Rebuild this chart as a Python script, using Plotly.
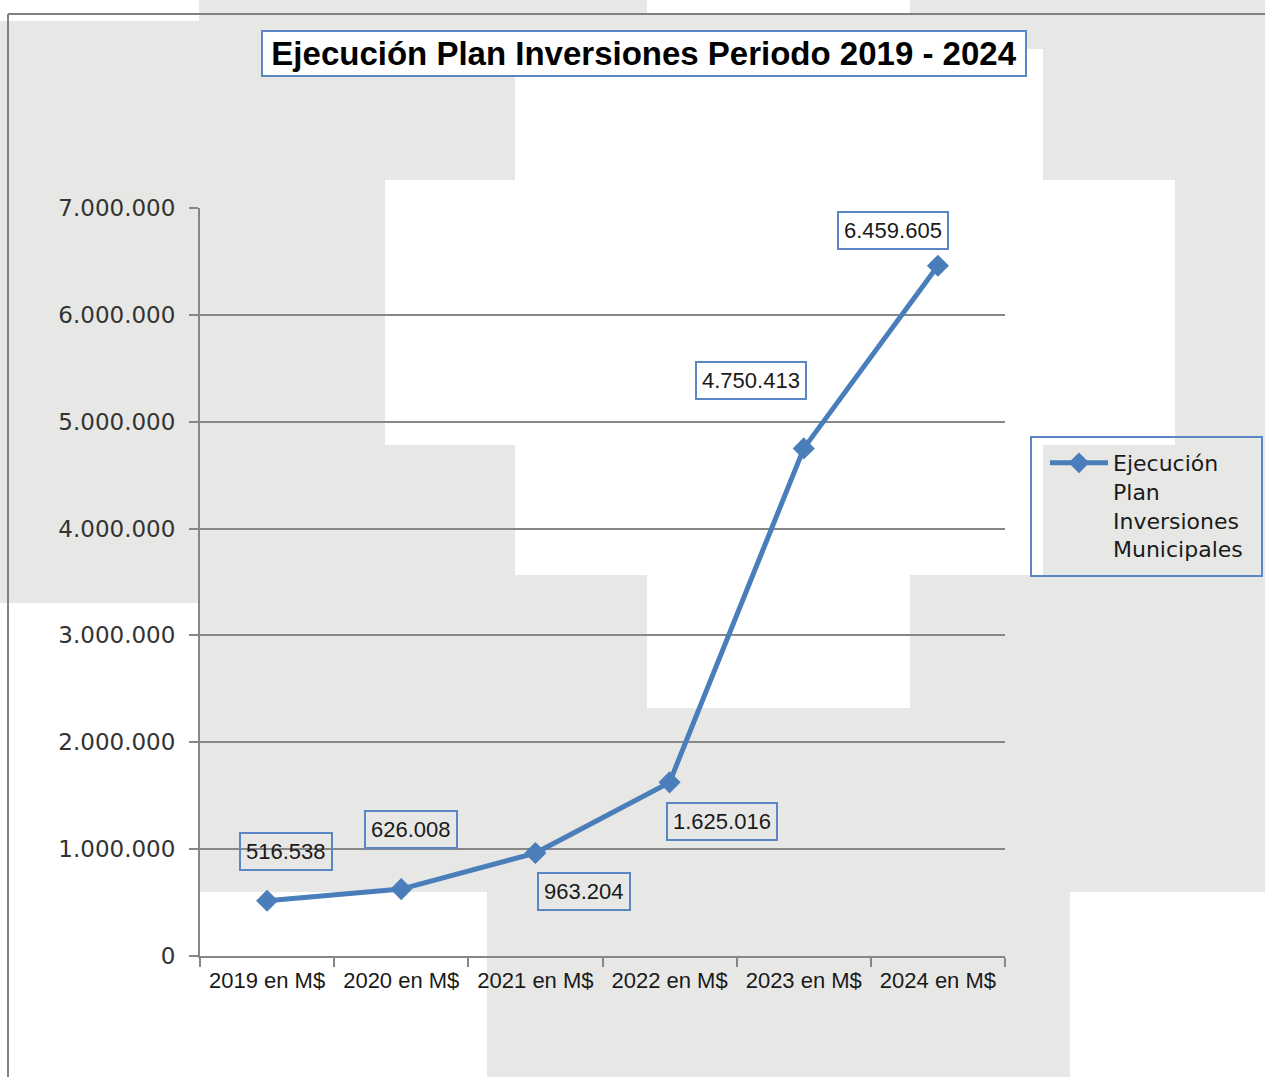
import plotly.graph_objects as go

# data
categories = ["2019 en M$", "2020 en M$", "2021 en M$", "2022 en M$", "2023 en M$", "2024 en M$"]
values = [516538, 626008, 963204, 1625016, 4750413, 6459605]
series_name = "Ejecución<br>Plan<br>Inversiones<br>Municipales"
title_text = "Ejecución Plan Inversiones Periodo 2019 - 2024"
y_ticks = [0, 1000000, 2000000, 3000000, 4000000, 5000000, 6000000, 7000000]

# label box offsets from each point (px, screen down = positive)
label_offsets = [(19, -49), (10, -60), (49, 38), (52, 39), (-53, -68), (-45, -35)]

W, H = 1265, 1077
L, R, T, B = 200, 1005, 208, 956
GRAY = "#E7E8E6"
BLUE = "#4A7EBB"
BOX = "#5B86C5"
AXIS = "#878787"


def px(x):
    return (x - L) / (R - L)


def py(y):
    return (B - y) / (B - T)


def fmt(v):
    return f"{v:,}".replace(",", ".")


fig = go.Figure()
fig.add_trace(go.Scatter(
    x=categories, y=values, mode="lines+markers", name=series_name,
    line=dict(color=BLUE, width=5),
    marker=dict(symbol="diamond", size=17, color=BLUE),
))

# blocky white areas over the gray background
white_blocks = [
    (0, 199, 0, 21), (647, 910, 0, 14),
    (515, 1043, 49, 180), (385, 1175, 180, 445),
    (515, 1043, 445, 575), (647, 910, 575, 708),
    (0, 199, 603, 1077), (199, 487, 892, 1077), (1070, 1265, 892, 1077),
]
shapes = []
for x0, x1, y0, y1 in white_blocks:
    shapes.append(dict(type="rect", xref="paper", yref="paper", layer="below",
                       x0=px(x0), x1=px(x1), y0=py(y1), y1=py(y0),
                       fillcolor="white", line=dict(width=0)))
# chart frame
shapes.append(dict(type="line", xref="paper", yref="paper", layer="below",
                   x0=px(8), x1=px(1266), y0=py(14), y1=py(14),
                   line=dict(color="#808080", width=2)))
shapes.append(dict(type="line", xref="paper", yref="paper", layer="below",
                   x0=px(8), x1=px(8), y0=py(14), y1=py(1078),
                   line=dict(color="#808080", width=2)))
# legend frame
shapes.append(dict(type="rect", xref="paper", yref="paper",
                   x0=px(1031), x1=px(1262), y0=py(576), y1=py(437),
                   line=dict(color=BOX, width=2)))

annotations = [dict(
    text="<b>" + title_text + "</b>", xref="paper", yref="paper",
    x=px(643.5), y=py(53.5), showarrow=False, xanchor="center", yanchor="middle",
    width=760, height=41, bgcolor="white", bordercolor=BOX, borderwidth=2,
    font=dict(family="Liberation Sans, Arial", size=33, color="black"),
)]
for c, v, (dx, dy) in zip(categories, values, label_offsets):
    annotations.append(dict(
        text=fmt(v), x=c, y=v, xref="x", yref="y", showarrow=False,
        xshift=dx, yshift=-dy, xanchor="center", yanchor="middle",
        bordercolor=BOX, borderwidth=2, borderpad=5,
        font=dict(family="Liberation Sans, Arial", size=22, color="#1a1a1a"),
    ))

fig.update_layout(
    width=W, height=H,
    margin=dict(l=L, r=W - R, t=T, b=H - B),
    paper_bgcolor=GRAY, plot_bgcolor="rgba(0,0,0,0)",
    separators=",.",
    shapes=shapes, annotations=annotations,
    showlegend=True,
    legend=dict(
        x=px(1045), y=py(442), xanchor="left", yanchor="top",
        bgcolor="rgba(0,0,0,0)", borderwidth=0,
        font=dict(family="DejaVu Sans", size=22, color="#1a1a1a"),
        valign="top", itemwidth=58,
    ),
    xaxis=dict(
        type="category", range=[-0.5, 5.5], showgrid=False,
        showline=True, linecolor=AXIS, linewidth=2,
        ticks="outside", tickson="boundaries", ticklen=9, tickcolor=AXIS, tickwidth=2,
        ticklabelstandoff=4,
        tickfont=dict(family="Liberation Sans, Arial", size=22, color="#1a1a1a"),
    ),
    yaxis=dict(
        range=[0, 7000000], tickvals=y_ticks, tickformat=",d",
        showgrid=True, gridcolor=AXIS, gridwidth=2, zeroline=False,
        showline=True, linecolor=AXIS, linewidth=2,
        ticks="outside", ticklen=9, tickcolor=AXIS, tickwidth=2,
        ticklabelstandoff=9,
        tickfont=dict(family="DejaVu Sans", size=23, color="#333333"),
    ),
)

fig.write_html("out.html", config={"displayModeBar": False},
               post_script="document.body.style.margin='0';")
